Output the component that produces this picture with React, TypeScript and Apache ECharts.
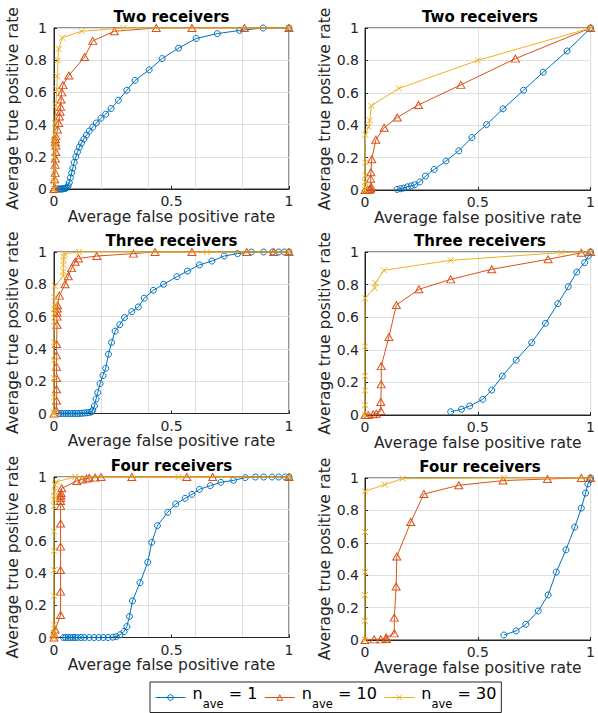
import React, { useEffect, useRef } from 'react';
import * as echarts from 'echarts';

const FONT = 'DejaVu Sans';
const INK = '#262626';
const GRIDC = '#dfdfdf';
const COLORS = ['#0072BD', '#D95319', '#EDB120'];

const titles = ['Two receivers', 'Two receivers', 'Three receivers', 'Three receivers', 'Four receivers', 'Four receivers'];
const seriesNames = ['n_ave = 1', 'n_ave = 10', 'n_ave = 30'];
const xAxisTitle = 'Average false positive rate';
const yAxisTitle = 'Average true positive rate';

// Two receivers (left)
const p1n1 = [[0.015,0],[0.02,0],[0.025,0],[0.03,0],[0.035,0],[0.04,0.002],[0.045,0.003],[0.05,0.005],[0.055,0.01],[0.06,0.02],[0.065,0.04],[0.07,0.07],[0.075,0.1],[0.08,0.13],[0.086,0.165],[0.093,0.2],[0.1,0.23],[0.108,0.26],[0.117,0.285],[0.127,0.31],[0.138,0.335],[0.15,0.36],[0.165,0.385],[0.18,0.41],[0.2,0.44],[0.22,0.465],[0.243,0.5],[0.274,0.551],[0.31,0.613],[0.345,0.675],[0.405,0.74],[0.46,0.81],[0.53,0.875],[0.605,0.935],[0.695,0.965],[0.79,0.985],[0.89,1],[1,1]];
const p1n10 = [[0,0],[0.003,0.01],[0.003,0.06],[0.005,0.1],[0.005,0.15],[0.006,0.19],[0.008,0.23],[0.008,0.27],[0.006,0.29],[0.006,0.31],[0.008,0.33],[0.015,0.37],[0.02,0.41],[0.023,0.45],[0.026,0.48],[0.028,0.51],[0.03,0.556],[0.033,0.6],[0.038,0.645],[0.063,0.705],[0.13,0.82],[0.165,0.92],[0.257,0.98],[0.435,1],[0.587,1],[0.81,1],[1,1]];
const p1n30 = [[0,0],[0.001,0.05],[0.001,0.12],[0.002,0.2],[0.002,0.26],[0.003,0.3],[0.003,0.34],[0.004,0.41],[0.008,0.52],[0.012,0.62],[0.014,0.7],[0.017,0.8],[0.02,0.87],[0.035,0.94],[0.118,0.98],[0.295,1],[1,1]];
// Two receivers (right)
const p2n1 = [[0.142,0.004],[0.158,0.008],[0.172,0.012],[0.188,0.02],[0.205,0.025],[0.22,0.032],[0.243,0.05],[0.268,0.086],[0.307,0.127],[0.359,0.179],[0.416,0.242],[0.474,0.324],[0.539,0.404],[0.612,0.501],[0.703,0.616],[0.79,0.727],[0.896,0.858],[1,1]];
const p2n10 = [[0,0],[0.01,0],[0.018,0.002],[0.022,0.005],[0.025,0.01],[0.027,0.02],[0.025,0.07],[0.026,0.11],[0.03,0.19],[0.048,0.31],[0.085,0.384],[0.143,0.448],[0.237,0.525],[0.425,0.649],[0.667,0.811],[1,1]];
const p2n30 = [[0,0],[0,0.02],[0,0.05],[0.001,0.09],[0.001,0.17],[0.002,0.34],[0.016,0.39],[0.021,0.43],[0.028,0.52],[0.15,0.627],[0.5,0.8],[1,1]];
// Three receivers (left)
const p3n1 = [[0.02,0],[0.03,0],[0.04,0],[0.05,0],[0.06,0],[0.07,0],[0.08,0],[0.09,0],[0.1,0],[0.11,0],[0.12,0.002],[0.13,0.003],[0.14,0.004],[0.15,0.006],[0.16,0.01],[0.165,0.02],[0.172,0.047],[0.179,0.09],[0.186,0.13],[0.196,0.185],[0.208,0.235],[0.22,0.28],[0.232,0.367],[0.245,0.44],[0.26,0.51],[0.28,0.55],[0.3,0.594],[0.331,0.631],[0.359,0.66],[0.384,0.714],[0.423,0.763],[0.466,0.8],[0.523,0.847],[0.568,0.882],[0.619,0.92],[0.672,0.944],[0.724,0.975],[0.781,0.99],[0.84,1],[0.892,1],[0.93,1],[0.956,1],[0.98,1],[1,1]];
const p3n10 = [[0,0],[0.01,0.02],[0.011,0.08],[0.011,0.15],[0.011,0.22],[0.011,0.29],[0.011,0.36],[0.011,0.43],[0.013,0.55],[0.013,0.6],[0.013,0.625],[0.014,0.65],[0.015,0.67],[0.023,0.73],[0.047,0.8],[0.061,0.85],[0.075,0.9],[0.09,0.94],[0.104,0.96],[0.182,0.975],[0.338,0.99],[0.43,1],[0.587,1],[0.82,1],[0.935,1],[1,1]];
const p3n30 = [[0,0],[0,0.01],[0,0.1],[0,0.22],[0,0.33],[0,0.44],[0.001,0.57],[0.001,0.62],[0.002,0.65],[0.003,0.67],[0.002,0.72],[0.003,0.79],[0.04,0.85],[0.04,0.88],[0.04,0.92],[0.041,0.95],[0.042,0.97],[0.043,0.99],[0.107,1],[0.65,1],[1,1]];
// Three receivers (right)
const p4n1 = [[0.38,0.02],[0.428,0.035],[0.464,0.055],[0.522,0.096],[0.562,0.153],[0.609,0.239],[0.67,0.337],[0.739,0.444],[0.8,0.562],[0.855,0.683],[0.901,0.787],[0.939,0.877],[0.974,0.935],[0.99,0.975],[1,1]];
const p4n10 = [[0,0],[0.014,0],[0.036,0.004],[0.05,0.008],[0.07,0.025],[0.07,0.08],[0.072,0.188],[0.072,0.3],[0.106,0.479],[0.139,0.675],[0.239,0.771],[0.38,0.832],[0.562,0.894],[0.812,0.955],[0.959,0.995],[1,1]];
const p4n30 = [[0,0],[0,0.06],[0,0.15],[0,0.24],[0,0.42],[0,0.716],[0.043,0.78],[0.046,0.81],[0.084,0.888],[0.38,0.949],[0.87,0.996],[1,1]];
// Four receivers (left)
const p5n1 = [[0.04,0],[0.05,0],[0.06,0],[0.07,0],[0.08,0],[0.09,0],[0.1,0],[0.115,0],[0.13,0],[0.15,0],[0.17,0],[0.19,0],[0.21,0],[0.23,0],[0.25,0.002],[0.265,0.005],[0.281,0.017],[0.298,0.037],[0.31,0.068],[0.321,0.131],[0.334,0.228],[0.366,0.342],[0.399,0.469],[0.416,0.593],[0.44,0.697],[0.484,0.78],[0.518,0.832],[0.558,0.867],[0.587,0.892],[0.619,0.923],[0.665,0.946],[0.71,0.967],[0.764,0.979],[0.814,0.996],[0.857,1],[0.892,1],[0.928,1],[0.956,1],[0.984,1],[1,1]];
const p5n10 = [[0,0],[0,0.02],[0.005,0.05],[0.028,0.14],[0.028,0.286],[0.028,0.42],[0.028,0.566],[0.028,0.71],[0.028,0.82],[0.028,0.85],[0.028,0.87],[0.029,0.885],[0.03,0.9],[0.033,0.93],[0.097,0.975],[0.12,0.985],[0.139,0.99],[0.15,0.995],[0.175,0.996],[0.2,1],[0.331,1],[0.565,1],[0.675,1],[1,1]];
const p5n30 = [[0,0],[0,0.03],[0,0.08],[0,0.26],[0,0.42],[0,0.54],[0,0.66],[0,0.82],[0,0.86],[0.002,0.88],[0.003,0.91],[0.005,0.95],[0.01,0.97],[0.09,1],[0.53,1],[1,1]];
// Four receivers (right)
const p6n1 = [[0.616,0.031],[0.67,0.056],[0.713,0.097],[0.768,0.179],[0.812,0.278],[0.848,0.419],[0.891,0.557],[0.93,0.697],[0.959,0.814],[0.978,0.907],[0.988,0.963],[0.997,0.99],[1,1]];
const p6n10 = [[0,0],[0.041,0.004],[0.07,0.004],[0.094,0.006],[0.094,0.016],[0.13,0.041],[0.13,0.138],[0.138,0.33],[0.141,0.515],[0.203,0.728],[0.261,0.901],[0.416,0.955],[0.612,0.984],[0.809,0.994],[0.959,1],[1,1]];
const p6n30 = [[0,0],[0,0.118],[0,0.278],[0,0.419],[0,0.666],[0,0.918],[0.087,0.959],[0.167,0.996],[0.616,1],[1,1]];

const panelData = [
  [p1n1, p1n10, p1n30],
  [p2n1, p2n10, p2n30],
  [p3n1, p3n10, p3n30],
  [p4n1, p4n10, p4n30],
  [p5n1, p5n10, p5n30],
  [p6n1, p6n10, p6n30],
];

const gridRects = [
  { left: 54, top: 28, width: 235, height: 161 },
  { left: 365, top: 28, width: 230, height: 162 },
  { left: 54, top: 252, width: 235, height: 161.5 },
  { left: 365, top: 252, width: 230, height: 163 },
  { left: 54, top: 477, width: 235, height: 160.5 },
  { left: 365, top: 478, width: 230, height: 162 },
];

const SYMBOLS = ['circle', 'triangle', 'path://M0 0L10 10M10 0L0 10'];
const SIZES: any[] = [6, [8, 7], 6];

export default function App() {
  const ref = useRef<HTMLDivElement>(null);
  useEffect(() => {
    if (!ref.current) return;
    const chart = echarts.init(ref.current, null, { renderer: 'svg' });
    const grid: any[] = [];
    const xAxis: any[] = [];
    const yAxis: any[] = [];
    const series: any[] = [];
    const graphic: any[] = [];
    gridRects.forEach((r, i) => {
      const isRight = i % 2 === 1;
      grid.push({ ...r, show: true, borderColor: INK, borderWidth: 1, backgroundColor: 'transparent' });
      const xMain = xAxis.length;
      xAxis.push({
        type: 'value', gridIndex: i, min: 0, max: 1, interval: 0.5, position: 'bottom',
        axisLine: { show: true, onZero: false, lineStyle: { color: INK, width: 1 } },
        axisTick: { show: true, inside: true, length: 3, lineStyle: { color: INK } },
        axisLabel: { fontSize: 14, color: INK, margin: 5, fontFamily: FONT },
        splitLine: { show: isRight, lineStyle: { color: GRIDC, width: 1 } },
        name: xAxisTitle, nameLocation: 'middle', nameGap: 19.5,
        nameTextStyle: { fontSize: 15.5, color: INK, fontFamily: FONT },
      });
      if (!isRight) {
        xAxis.push({
          type: 'value', gridIndex: i, min: 0, max: 1, interval: 0.2, position: 'top',
          axisLine: { show: false }, axisTick: { show: false }, axisLabel: { show: false },
          splitLine: { show: true, lineStyle: { color: GRIDC, width: 1 } },
        });
      }
      const yIdx = yAxis.length;
      yAxis.push({
        type: 'value', gridIndex: i, min: 0, max: 1, interval: 0.2,
        axisLine: { show: true, onZero: false, lineStyle: { color: INK, width: 1 } },
        axisTick: { show: true, inside: true, length: 3, lineStyle: { color: INK } },
        axisLabel: { fontSize: 14, color: INK, margin: isRight ? 6 : 7, fontFamily: FONT },
        splitLine: { show: true, lineStyle: { color: GRIDC, width: 1 } },
        name: yAxisTitle, nameLocation: 'middle', nameGap: 32,
        nameTextStyle: { fontSize: 15.5, color: INK, fontFamily: FONT },
      });
      panelData[i].forEach((d, k) => {
        series.push({
          type: 'line', name: seriesNames[k], xAxisIndex: xMain, yAxisIndex: yIdx,
          data: d, symbol: SYMBOLS[k], symbolSize: SIZES[k], showAllSymbol: true,
          clip: false, z: 2 + k,
          lineStyle: { color: COLORS[k], width: 1 },
          itemStyle: { color: 'rgba(0,0,0,0)', borderColor: COLORS[k], borderWidth: 1 },
          emphasis: { disabled: true },
        });
      });
      graphic.push({
        type: 'text', x: r.left + r.width / 2, y: r.top - 11, silent: true,
        style: { text: titles[i], fontSize: 15, fontWeight: 'bold', fill: '#000', fontFamily: FONT, align: 'center', verticalAlign: 'middle' },
      });
    });
    chart.setOption({
      animation: false,
      backgroundColor: '#fff',
      grid, xAxis, yAxis, series, graphic,
      legend: {
        data: seriesNames.map((n, k) => ({
          name: n,
          itemStyle: { color: 'rgba(0,0,0,0)', borderColor: COLORS[k], borderWidth: 1 },
          lineStyle: { color: COLORS[k], width: 1 },
        })),
        left: 150, top: 682, orient: 'horizontal',
        itemWidth: 30, itemHeight: 7, itemGap: 7, padding: [3, 5, 2.5, 5],
        borderColor: INK, borderWidth: 1, backgroundColor: '#fff', selectedMode: false,
        formatter: (name: string) => `{n|n}{s|ave}{m| = ${name.split('= ')[1]}}`,
        textStyle: {
          color: '#000', fontFamily: FONT,
          rich: {
            n: { fontSize: 16, fontFamily: FONT, color: '#000', verticalAlign: 'top', padding: [0, 0, 0, 2] },
            s: { fontSize: 11.5, fontFamily: FONT, color: '#000', verticalAlign: 'top', padding: [13, 0, 0, 0] },
            m: { fontSize: 16, fontFamily: FONT, color: '#000', verticalAlign: 'top' },
          },
        },
      },
    });
    return () => chart.dispose();
  }, []);
  return <div ref={ref} style={{ position: 'fixed', left: 0, top: 0, width: 598, height: 713, background: '#fff' }} />;
}
